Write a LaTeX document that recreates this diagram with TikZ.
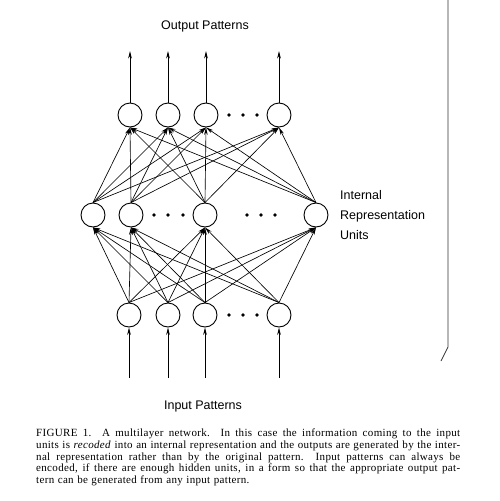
\documentclass[tikz,border=0pt]{standalone}
\usepackage{fontspec}
\setmainfont{Liberation Serif}
\newfontfamily\labelfont{Liberation Sans}
\usetikzlibrary{arrows.meta}

\begin{document}
\begin{tikzpicture}[x=1pt, y=-1pt,
                  unit/.style = {circle, draw, line width=0.9pt, minimum size=24pt, inner sep=0pt},
                  arr/.style = {-{Stealth[length=7.5pt, width=3.6pt]}, line width=0.65pt},
                  lbl/.style = {font=\labelfont\fontsize{12.5}{20}\selectfont, inner sep=0pt}
                  ]
\useasboundingbox (0,0) rectangle (499,501);
% units of the three layers
\foreach \x [count=\j] in {130,168,206,279}
    \node (o\j) [unit] at (\x,115) {};
\foreach \x [count=\j] in {93,131,205,316}
    \node (h\j) [unit] at (\x,215) {};
\foreach \x [count=\j] in {129,168,205,279}
    \node (i\j) [unit] at (\x,315) {};
% dots
\foreach \x in {229,243,257}
    {\fill (\x,115) circle (1.8pt);
     \fill (\x,315) circle (1.8pt);}
\foreach \x in {154,168,183,247,261,275}
    \fill (\x,215) circle (1.8pt);
% connections
\foreach \a in {1,...,4}
    \foreach \b in {1,...,4}
        {\draw[arr] (i\a.north) -- (h\b.south);
         \draw[arr] (h\a.north) -- (o\b.south);}
% patterns in and out
\foreach \j in {1,...,4}
    {\coordinate (top\j) at (o\j |- 0,51);
     \coordinate (bot\j) at (i\j |- 0,378);
     \draw[arr] (o\j.north) -- (top\j);
     \draw[arr] (bot\j) -- (i\j.south);}
\node (outlbl) [lbl] at (205,26) {Output Patterns};
\node (inlbl) [lbl] at (203,406) {Input Patterns};
\node (hidlbl) [lbl, anchor=west, align=left] at (340,215) {Internal\\Representation\\Units};
% page edge
\draw[line width=0.8pt, black!80] (448,0) -- (448,347) -- (441,361);
\node (caption) [anchor=north west, inner sep=0pt, text width=424pt, align=justify,
                 font=\addfontfeature{LetterSpace=3}\fontsize{11}{11.8}\selectfont] at (36,428.5)
    {\spaceskip=0.32em plus 0.4em minus 0.05em
     FIGURE 1.\ \ A multilayer network.\ \ In this case the information coming to the input\linebreak
     units is \emph{recoded} into an internal representation and the outputs are generated by the inter-\linebreak
     nal representation rather than by the original pattern.\ \ Input patterns can always be\linebreak
     encoded, if there are enough hidden units, in a form so that the appropriate output pat-\linebreak
     tern can be generated from any input pattern.};
\end{tikzpicture}
\end{document}
